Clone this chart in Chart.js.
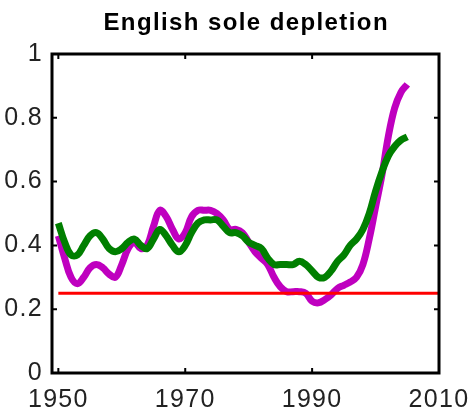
<!DOCTYPE html>
<html>
<head>
<meta charset="utf-8">
<script src="https://cdn.jsdelivr.net/npm/chart.js@4"></script>
<style>
  html, body { margin: 0; padding: 0; background: #fff; }
  #wrap { width: 473px; height: 414px; }
</style>
</head>
<body>
<div id="wrap"><canvas id="sole-chart" width="473" height="414"></canvas></div>
<script>
// anos e valores
const years = [1950, 1951, 1952, 1953, 1954, 1955, 1956, 1957, 1958, 1959,
  1960, 1961, 1962, 1963, 1964, 1965, 1966, 1967, 1968, 1969,
  1970, 1971, 1972, 1973, 1974, 1975, 1976, 1977, 1978, 1979,
  1980, 1981, 1982, 1983, 1984, 1985, 1986, 1987, 1988, 1989,
  1990, 1991, 1992, 1993, 1994, 1995, 1996, 1997, 1998, 1999,
  2000, 2001, 2002, 2003, 2004, 2005];

const greenValues = [0.47, 0.41, 0.37, 0.37, 0.40, 0.43, 0.44, 0.42, 0.39, 0.38,
  0.39, 0.41, 0.42, 0.40, 0.39, 0.42, 0.45, 0.43, 0.40, 0.38,
  0.40, 0.44, 0.47, 0.48, 0.48, 0.48, 0.46, 0.44, 0.44, 0.43,
  0.41, 0.40, 0.39, 0.36, 0.34, 0.34, 0.34, 0.34, 0.35, 0.34,
  0.32, 0.30, 0.30, 0.32, 0.35, 0.37, 0.40, 0.42, 0.45, 0.50,
  0.57, 0.63, 0.68, 0.71, 0.73, 0.74];

const purpleValues = [0.43, 0.36, 0.30, 0.28, 0.30, 0.33, 0.34, 0.33, 0.31, 0.30,
  0.34, 0.39, 0.41, 0.39, 0.40, 0.46, 0.51, 0.49, 0.45, 0.42,
  0.44, 0.49, 0.51, 0.51, 0.51, 0.50, 0.48, 0.45, 0.45, 0.44,
  0.41, 0.38, 0.36, 0.34, 0.30, 0.27, 0.255, 0.255, 0.255, 0.25,
  0.225, 0.22, 0.23, 0.245, 0.265, 0.275, 0.285, 0.30, 0.34, 0.42,
  0.52, 0.62, 0.74, 0.83, 0.88, 0.905];

const targetYears = [1950, 2010];
const targetValues = [0.25, 0.25];

const xTickLabels = [1950, 1970, 1990, 2010];
const yTickLabels = [0, 0.2, 0.4, 0.6, 0.8, 1];

const chartTitle = 'English sole depletion';

function toPoints(xs, ys) {
  return xs.map((x, i) => ({ x: x, y: ys[i] }));
}

// espaçamento entre letras, como no original
const spacingPlugin = {
  id: 'spacing',
  beforeDraw(chart) { chart.ctx.letterSpacing = '1.3px'; },
  afterDraw(chart) { chart.ctx.letterSpacing = '0px'; }
};

// título centrado sobre a área do gráfico
const titlePlugin = {
  id: 'centeredTitle',
  afterDraw(chart) {
    const { ctx, chartArea: a } = chart;
    ctx.save();
    ctx.letterSpacing = '1.4px';
    ctx.font = "bold 24px 'Liberation Sans', Arial, sans-serif";
    ctx.fillStyle = '#000';
    ctx.textAlign = 'center';
    ctx.textBaseline = 'alphabetic';
    ctx.fillText(chartTitle, (a.left + a.right) / 2 + 0.7, 30);
    ctx.restore();
  }
};

// moldura preta e marcas de escala para dentro
const framePlugin = {
  id: 'frame',
  afterDraw(chart) {
    const { ctx, chartArea: a, scales } = chart;
    ctx.save();
    ctx.strokeStyle = '#000';
    ctx.lineWidth = 3;
    ctx.strokeRect(a.left, a.top, a.right - a.left, a.bottom - a.top);
    ctx.lineWidth = 2;
    const len = 5;
    xTickLabels.forEach(v => {
      const px = scales.x.getPixelForValue(v);
      ctx.beginPath();
      ctx.moveTo(px, a.bottom); ctx.lineTo(px, a.bottom - len);
      ctx.moveTo(px, a.top); ctx.lineTo(px, a.top + len);
      ctx.stroke();
    });
    yTickLabels.forEach(v => {
      const py = scales.y.getPixelForValue(v);
      ctx.beginPath();
      ctx.moveTo(a.left, py); ctx.lineTo(a.left + len, py);
      ctx.moveTo(a.right, py); ctx.lineTo(a.right - len, py);
      ctx.stroke();
    });
    ctx.restore();
  }
};

const tickFont = { family: "'Liberation Sans', Arial, sans-serif", size: 25 };

new Chart(document.getElementById('sole-chart').getContext('2d'), {
  type: 'line',
  data: {
    datasets: [
      {
        label: 'target',
        data: toPoints(targetYears, targetValues),
        borderColor: '#ff0000',
        borderWidth: 3,
        pointRadius: 0,
        tension: 0
      },
      {
        label: 'green',
        data: toPoints(years, greenValues),
        borderColor: '#007f00',
        borderWidth: 7,
        pointRadius: 0,
        tension: 0.4,
        borderJoinStyle: 'round'
      },
      {
        label: 'purple',
        data: toPoints(years, purpleValues),
        borderColor: '#bf00bf',
        borderWidth: 7,
        pointRadius: 0,
        tension: 0.4,
        borderJoinStyle: 'round'
      }
    ]
  },
  options: {
    responsive: false,
    animation: false,
    layout: { padding: { left: 0, right: 34, top: 54, bottom: 0 } },
    plugins: {
      legend: { display: false },
      tooltip: { enabled: false },
      title: { display: false }
    },
    scales: {
      x: {
        type: 'linear',
        min: 1949,
        max: 2010,
        afterBuildTicks: s => { s.ticks = xTickLabels.map(v => ({ value: v })); },
        afterFit: s => { s.height = 41; s.paddingLeft = 0; s.paddingRight = 0; },
        grid: { display: false, drawTicks: false },
        border: { display: false },
        ticks: { color: '#222', font: tickFont, padding: 12, maxRotation: 0, autoSkip: false, callback: v => String(v) }
      },
      y: {
        min: 0,
        max: 1,
        afterBuildTicks: s => { s.ticks = yTickLabels.map(v => ({ value: v })); },
        afterFit: s => { s.width = 52; s.paddingTop = 0; s.paddingBottom = 0; },
        grid: { display: false, drawTicks: false },
        border: { display: false },
        ticks: { color: '#222', font: tickFont, padding: 9, callback: v => String(v) }
      }
    }
  },
  plugins: [spacingPlugin, framePlugin, titlePlugin]
});
</script>
</body>
</html>
